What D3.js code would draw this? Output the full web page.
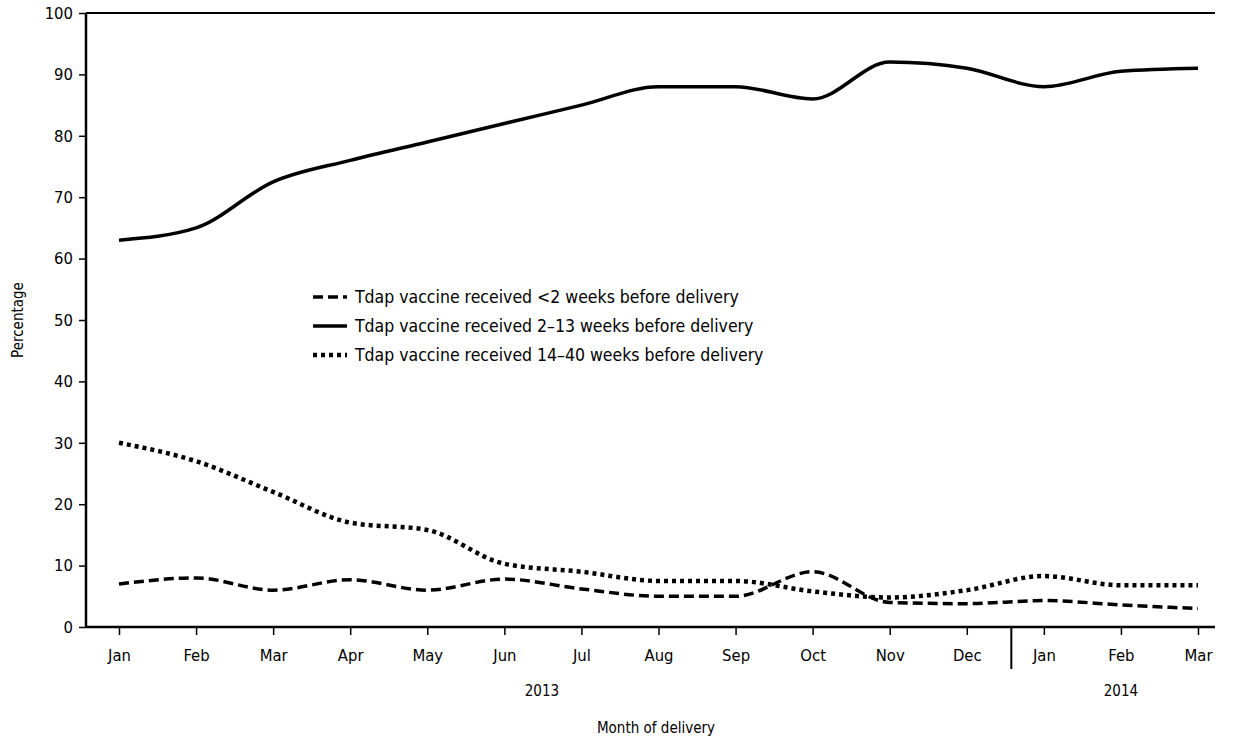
<!DOCTYPE html>
<html>
<head>
<meta charset="utf-8">
<script src="https://cdn.jsdelivr.net/npm/d3@7"></script>
<style>
body { margin: 0; background: #fff; }
text { font-family: "DejaVu Sans Condensed", "Liberation Sans", sans-serif; fill: #000; }
</style>
</head>
<body>
<div id="chart"></div>
<script>
// Data.
var months = ["Jan", "Feb", "Mar", "Apr", "May", "Jun", "Jul", "Aug", "Sep", "Oct", "Nov", "Dec", "Jan", "Feb", "Mar"];
var yTicks = [0, 10, 20, 30, 40, 50, 60, 70, 80, 90, 100];
var lessThan2 = [7, 8, 6, 7.7, 6, 7.8, 6.2, 5, 5, 9, 4, 3.8, 4.3, 3.6, 3];
var weeks2to13 = [63, 65, 72.5, 76, 79, 82, 85, 88, 88, 86, 92, 91, 88, 90.5, 91];
var weeks14to40 = [30, 27, 22, 17, 15.8, 10.3, 9, 7.5, 7.5, 5.8, 4.8, 6, 8.3, 6.8, 6.8];
var seriesNames = [
    "Tdap vaccine received <2 weeks before delivery",
    "Tdap vaccine received 2\u201313 weeks before delivery",
    "Tdap vaccine received 14\u201340 weeks before delivery"
];

// Dimensions.
var W = 1233, H = 740;
var plotLeft = 86, plotRight = 1215, plotTop = 13, plotBottom = 627;

var svg = d3.select("#chart").append("svg")
    .attr("width", W)
    .attr("height", H);

// Scales.
var x = d3.scaleLinear().domain([0, months.length - 1]).range([119, 1198]);
var y = d3.scaleLinear().domain([0, 100]).range([plotBottom, plotTop]);

// Axes.
var yAxis = svg.append("g")
    .attr("transform", "translate(" + plotLeft + ",0)")
    .call(d3.axisLeft(y).tickValues(yTicks).tickSize(7).tickPadding(6));
yAxis.select(".domain").remove();
yAxis.selectAll("line").attr("stroke-width", 1.5);
yAxis.selectAll("text").style("font-size", "16.5px");

var xAxis = svg.append("g")
    .attr("transform", "translate(0," + plotBottom + ")")
    .call(d3.axisBottom(x).tickValues(d3.range(months.length))
        .tickFormat(function(i) { return months[i]; })
        .tickSize(8).tickPadding(14));
xAxis.select(".domain").remove();
xAxis.selectAll("line").attr("stroke-width", 1.5);
xAxis.selectAll("text").style("font-size", "16.5px");

// Frame lines.
svg.append("line").attr("x1", plotLeft).attr("x2", plotLeft).attr("y1", plotTop).attr("y2", plotBottom)
    .attr("stroke", "#000").attr("stroke-width", 2.5);
svg.append("line").attr("x1", plotLeft).attr("x2", plotRight).attr("y1", plotBottom).attr("y2", plotBottom)
    .attr("stroke", "#000").attr("stroke-width", 2.5);
svg.append("line").attr("x1", plotLeft).attr("x2", plotRight).attr("y1", plotTop).attr("y2", plotTop)
    .attr("stroke", "#000").attr("stroke-width", 2);

// Year divider and labels.
var divX = (x(11) + x(12)) / 2 + 6;
svg.append("line").attr("x1", divX).attr("x2", divX).attr("y1", plotBottom).attr("y2", 669)
    .attr("stroke", "#000").attr("stroke-width", 2);
svg.append("text").attr("x", (x(0) + x(11)) / 2 - 1).attr("y", 696)
    .attr("text-anchor", "middle").style("font-size", "15px").text("2013");
svg.append("text").attr("x", x(13)).attr("y", 696)
    .attr("text-anchor", "middle").style("font-size", "15px").text("2014");

// Axis titles.
svg.append("text").attr("x", 656).attr("y", 733)
    .attr("text-anchor", "middle").style("font-size", "15px").text("Month of delivery");
svg.append("text").attr("transform", "translate(23,320) rotate(-90)")
    .attr("text-anchor", "middle").style("font-size", "15px").text("Percentage");

// Lines.
var line = d3.line()
    .x(function(d, i) { return x(i); })
    .y(function(d) { return y(d); })
    .curve(d3.curveMonotoneX);

var styles = [
    {dash: "10,5", width: 3.5},
    {dash: null, width: 3.5},
    {dash: "4,4", width: 4.5}
];
var data = [lessThan2, weeks2to13, weeks14to40];

data.forEach(function(s, k) {
    svg.append("path")
        .datum(s)
        .attr("fill", "none")
        .attr("stroke", "#000")
        .attr("stroke-width", styles[k].width)
        .attr("stroke-dasharray", styles[k].dash)
        .attr("d", line);
});

// Legend.
var legend = svg.append("g").attr("transform", "translate(313,297)");
seriesNames.forEach(function(name, k) {
    var g = legend.append("g").attr("transform", "translate(0," + (k * 29) + ")");
    g.append("line").attr("x1", 0).attr("x2", 34).attr("y1", 0).attr("y2", 0)
        .attr("stroke", "#000")
        .attr("stroke-width", styles[k].width)
        .attr("stroke-dasharray", styles[k].dash);
    g.append("text").attr("x", 42).attr("y", 6).style("font-size", "17.5px").text(name);
});
</script>
</body>
</html>
